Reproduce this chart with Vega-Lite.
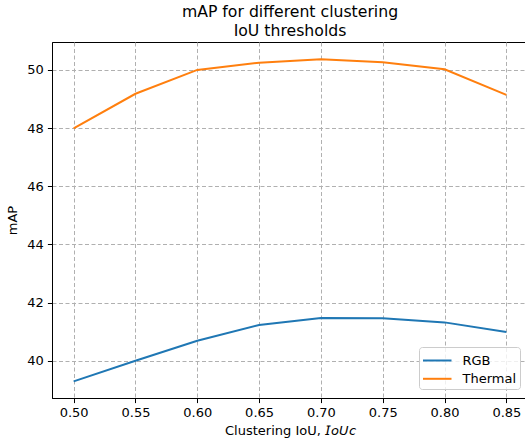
{
  "$schema": "https://vega.github.io/schema/vega-lite/v6.json",
  "autosize": "none",
  "padding": {"left": 52, "top": 42, "right": 0, "bottom": 45},
  "width": 476,
  "height": 356,
  "background": "white",
  "config": {
    "font": "DejaVu Sans",
    "view": {"stroke": "black", "strokeWidth": 1},
    "axis": {
      "domainColor": "black",
      "domainWidth": 1,
      "tickColor": "black",
      "tickWidth": 1,
      "tickSize": 4.6,
      "labelFontSize": 13,
      "labelColor": "black",
      "labelPadding": 4,
      "titleFontSize": 13,
      "titleFontWeight": "normal",
      "titleColor": "black",
      "gridColor": "#b0b0b0",
      "gridDash": [4, 2.5],
      "gridWidth": 1
    }
  },
  "title": {
    "text": ["mAP for different clustering", "IoU thresholds"],
    "fontSize": 15.7,
    "fontWeight": "normal",
    "color": "black",
    "anchor": "middle",
    "lineHeight": 19.3,
    "offset": 2
  },
  "data": {
    "values": [
      {"iou": 0.50, "mAP": 39.29, "series": "RGB"},
      {"iou": 0.55, "mAP": 40.00, "series": "RGB"},
      {"iou": 0.60, "mAP": 40.69, "series": "RGB"},
      {"iou": 0.65, "mAP": 41.23, "series": "RGB"},
      {"iou": 0.70, "mAP": 41.47, "series": "RGB"},
      {"iou": 0.75, "mAP": 41.46, "series": "RGB"},
      {"iou": 0.80, "mAP": 41.32, "series": "RGB"},
      {"iou": 0.85, "mAP": 40.99, "series": "RGB"},
      {"iou": 0.50, "mAP": 47.99, "series": "Thermal"},
      {"iou": 0.55, "mAP": 49.18, "series": "Thermal"},
      {"iou": 0.60, "mAP": 50.00, "series": "Thermal"},
      {"iou": 0.65, "mAP": 50.25, "series": "Thermal"},
      {"iou": 0.70, "mAP": 50.37, "series": "Thermal"},
      {"iou": 0.75, "mAP": 50.26, "series": "Thermal"},
      {"iou": 0.80, "mAP": 50.02, "series": "Thermal"},
      {"iou": 0.85, "mAP": 49.14, "series": "Thermal"}
    ]
  },
  "mark": {"type": "line", "strokeWidth": 2, "clip": true},
  "encoding": {
    "x": {
      "field": "iou",
      "type": "quantitative",
      "scale": {"domain": [0.4825, 0.8675], "nice": false, "zero": false},
      "axis": {
        "values": [0.5, 0.55, 0.6, 0.65, 0.7, 0.75, 0.8, 0.85],
        "format": ".2f",
        "title": "Clustering IoU, 𝘐𝘰𝘜𝘤",
        "titlePadding": 5
      }
    },
    "y": {
      "field": "mAP",
      "type": "quantitative",
      "scale": {"domain": [38.72, 50.96], "nice": false, "zero": false},
      "axis": {
        "values": [40, 42, 44, 46, 48, 50],
        "title": "mAP",
        "titlePadding": 7
      }
    },
    "color": {
      "field": "series",
      "type": "nominal",
      "scale": {"domain": ["RGB", "Thermal"], "range": ["#1f77b4", "#ff7f0e"]},
      "legend": {
        "title": null,
        "orient": "none",
        "legendX": 367,
        "legendY": 305,
        "symbolType": "M-1,0H2",
        "symbolSize": 361,
        "symbolStrokeWidth": 2,
        "labelFontSize": 13,
        "labelColor": "black",
        "labelOffset": 19.5,
        "padding": 3,
        "rowPadding": 0.3,
        "fillColor": "rgba(255,255,255,0.8)",
        "strokeColor": "#cccccc",
        "cornerRadius": 3
      }
    }
  }
}
